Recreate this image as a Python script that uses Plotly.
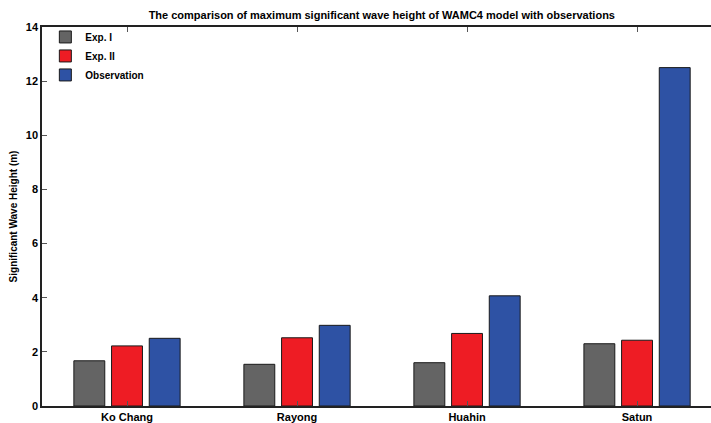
import plotly.graph_objects as go

stations = ["Ko Chang", "Rayong", "Huahin", "Satun"]
exp1 = [1.67, 1.54, 1.60, 2.30]
exp2 = [2.22, 2.52, 2.68, 2.43]
obs = [2.50, 2.98, 4.07, 12.50]
y_ticks = [0, 2, 4, 6, 8, 10, 12, 14]

series = [("Exp. I", exp1, "#646464"), ("Exp. II", exp2, "#EE1C24"), ("Observation", obs, "#2E52A4")]

fig = go.Figure()
for name, vals, col in series:
    fig.add_trace(go.Bar(x=stations, y=vals, name="<b>%s</b>" % name,
                         marker=dict(color=col, line=dict(color="#1a1a1a", width=1))))

font = "Liberation Sans, Arial, sans-serif"
fig.update_layout(
    width=711, height=423,
    margin=dict(l=42, r=0, t=27, b=17),
    plot_bgcolor="white", paper_bgcolor="white",
    barmode="group", bargap=0.335, bargroupgap=0.18,
    font=dict(family=font, size=11, color="black"),
    title=dict(text="<b>The comparison of maximum significant wave height of WAMC4 model with observations</b>",
               x=0.537, xanchor="center", y=0.965, yanchor="middle", font=dict(size=11)),
    legend=dict(x=0.005, y=1.012, xanchor="left", yanchor="top", bgcolor="rgba(0,0,0,0)",
                font=dict(size=10, family=font), itemwidth=30, tracegroupgap=0),
    showlegend=True,
)
fig.update_xaxes(
    range=[-0.5, 3.435], showline=True, linecolor="#222", linewidth=1.5, mirror="ticks",
    ticks="inside", ticklen=5, tickcolor="#555", showgrid=False,
    tickfont=dict(size=11), automargin=False,
    tickvals=stations, ticktext=["<b>%s</b>" % s for s in stations],
)
fig.update_yaxes(
    range=[0, 14], tickvals=y_ticks, ticktext=["<b>%d</b>" % v for v in y_ticks],
    showline=True, linecolor="#222", linewidth=1.5, ticks="inside", ticklen=5, tickcolor="#555",
    showgrid=False, zeroline=False, tickfont=dict(size=11), automargin=False,
    title=dict(text="<b>Significant Wave Height (m)</b>", font=dict(size=10), standoff=6),
)
fig.write_html("out.html", config={"displayModeBar": False},
               post_script="document.body.style.margin='0';")
